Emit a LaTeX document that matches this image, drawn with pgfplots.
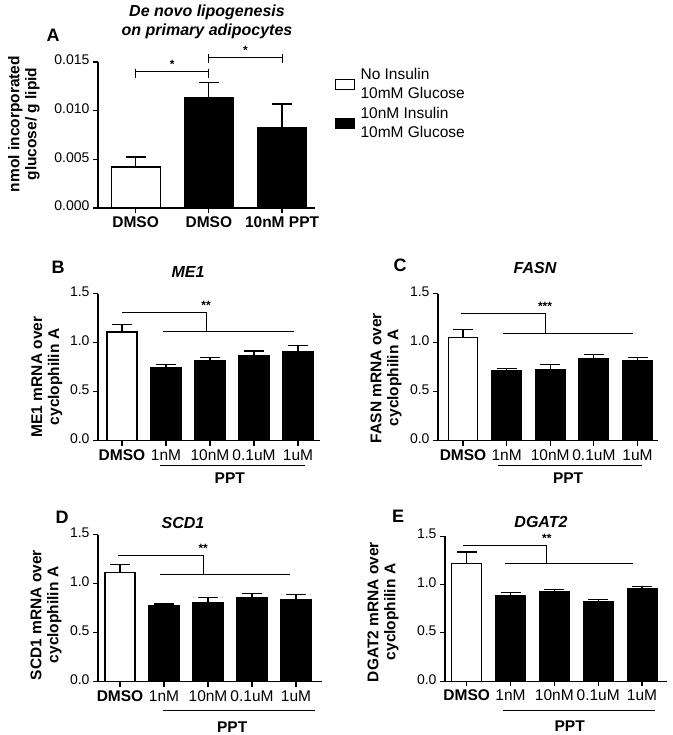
\documentclass[border=0pt]{standalone}
\usepackage{fontspec}
\setmainfont{Liberation Sans}
\usepackage{pgfplots}
\pgfplotsset{compat=1.18}

\tikzset{sig/.style={line width=1pt}}
\pgfplotsset{
  prism/.style={
    scale only axis,
    anchor=south west,
    axis x line*=bottom,
    axis y line*=left,
    axis line style={line width=1.2pt},
    tick align=outside,
    major tick length=5pt,
    tick style={line width=1.2pt, black},
    xtick pos=bottom, ytick pos=left,
    clip=false,
    /pgf/number format/assume math mode=true,
    yticklabel style={font=\fontsize{14}{14}\selectfont},
    xticklabel style={font=\fontsize{15.5}{16}\selectfont},
    typeset ticklabels with strut,
    error bars/y dir=plus,
    error bars/y explicit,
    error bars/error bar style={line width=1.2pt},
    error bars/error mark options={line width=1.2pt, mark size=10pt, rotate=90},
  },
  gene/.style={
    prism,
    height=147pt,
    ymin=0, ymax=1.5,
    ytick={0,0.5,1,1.5},
    yticklabel style={/pgf/number format/fixed, /pgf/number format/fixed zerofill, /pgf/number format/precision=1},
    xtick={0,1,2,3,4},
    xticklabels={\textbf{DMSO},1nM,10nM,0.1uM,1uM},
  },
  whitebar/.style={ybar, bar width=0.68, fill=white, draw=black, line width=1.2pt},
  blackbar/.style={ybar, bar width=0.68, fill=black, draw=black, line width=1.2pt},
}
\newcommand{\ylab}{\bfseries\fontsize{15.5}{17}\selectfont}
\newcommand{\ptitle}{\bfseries\itshape\fontsize{16}{16}\selectfont}
\newcommand{\plett}{\bfseries\fontsize{18}{18}\selectfont}
\newcommand{\stars}{\bfseries\fontsize{12}{12}\selectfont}
\newcommand{\ppt}{\bfseries\fontsize{15.5}{16}\selectfont}

\begin{document}
\begin{tikzpicture}
\useasboundingbox (0,0) rectangle (672pt,735pt);

% ---------------- Panel A ----------------
\begin{axis}[prism, at={(98pt,527pt)}, width=217pt, height=146pt,
  xmin=-0.514, xmax=2.45, ymin=0, ymax=0.015,
  ytick={0,0.005,0.01,0.015}, scaled y ticks=false,
  yticklabel style={/pgf/number format/fixed, /pgf/number format/fixed zerofill, /pgf/number format/precision=3},
  xtick={0,1,2}, xticklabels={DMSO,DMSO,10nM PPT},
  xticklabel style={font=\bfseries\fontsize{15.5}{16}\selectfont},
  legend style={draw=none, fill=none, at={(1.08,0.985)}, anchor=north west,
    cells={anchor=west, font=\fontsize{15.5}{18.5}\selectfont}, row sep=2.5pt, column sep=4pt},
  legend image code/.code={
    \path[draw=none, fill=none] (0pt,0pt) -- (19pt,0pt);
    \draw[#1, line width=1.2pt, overlay] (0pt,-15pt) rectangle (19pt,-5pt);},
]
\addplot[whitebar, bar width=0.67] coordinates {(0,0.00421) +- (0,0.00103)};
\addlegendentry{No Insulin}
\addlegendimage{empty legend}
\addlegendentry{10mM Glucose}
\addplot[blackbar, bar width=0.67] coordinates {(1,0.01137) +- (0,0.0015) (2,0.00829) +- (0,0.00239)};
\addlegendentry{10nM Insulin}
\addlegendimage{empty legend}
\addlegendentry{10mM Glucose}
\draw[sig] (axis cs:0,0.0140) -- (axis cs:1,0.0140);
\draw[sig] ([yshift=3pt]axis cs:0,0.0140) -- ([yshift=-6pt]axis cs:0,0.0140);
\draw[sig] ([yshift=3pt]axis cs:1,0.0140) -- ([yshift=-6pt]axis cs:1,0.0140);
\node[font=\stars] at ([yshift=7pt]axis cs:0.5,0.0140) {*};
\draw[sig] (axis cs:1,0.01548) -- (axis cs:2,0.01548);
\draw[sig] ([yshift=3pt]axis cs:1,0.01548) -- ([yshift=-6pt]axis cs:1,0.01548);
\draw[sig] ([yshift=3pt]axis cs:2,0.01548) -- ([yshift=-6pt]axis cs:2,0.01548);
\node[font=\stars] at ([yshift=7pt]axis cs:1.5,0.01548) {*};
\end{axis}
\node[font=\bfseries\itshape\fontsize{16}{19}\selectfont, align=center] at (207pt,713pt) {De novo lipogenesis\\on primary adipocytes};
\node[font=\plett] at (53pt,700pt) {A};
\node[font=\ylab, rotate=90, align=center] at (24pt,611pt) {nmol incorporated\\glucose/ g lipid};

% ---------------- Panel B ----------------
\begin{axis}[gene, at={(98pt,294.3pt)}, width=222pt, xmin=-0.545, xmax=4.5]
\addplot[whitebar] coordinates {(0,1.109) +- (0,0.078)};
\addplot[blackbar] coordinates {(1,0.747) +- (0,0.033) (2,0.814) +- (0,0.034) (3,0.872) +- (0,0.044) (4,0.912) +- (0,0.062)};
\draw[sig] (axis cs:0,1.306) -- (axis cs:1.91,1.306) -- (axis cs:1.91,1.115);
\draw[sig] (axis cs:0.93,1.115) -- (axis cs:3.91,1.115);
\node[font=\stars] at ([yshift=7pt]axis cs:1.91,1.306) {**};
\draw[sig] ([yshift=-25pt]axis cs:0.86,0) -- ([yshift=-25pt]axis cs:4.16,0);
\node[font=\ppt] at ([yshift=-37pt]axis cs:2.45,0) {PPT};
\end{axis}
\node[font=\ptitle] at (188pt,463pt) {ME1};
\node[font=\plett] at (58pt,468pt) {B};
\node[font=\ylab, rotate=90, align=center] at (47pt,358pt) {ME1 mRNA over\\cyclophilin A};

% ---------------- Panel C ----------------
\begin{axis}[gene, at={(438pt,294.3pt)}, width=220pt, xmin=-0.573, xmax=4.47]
\addplot[whitebar] coordinates {(0,1.057) +- (0,0.075)};
\addplot[blackbar] coordinates {(1,0.716) +- (0,0.024) (2,0.723) +- (0,0.051) (3,0.842) +- (0,0.034) (4,0.818) +- (0,0.034)};
\draw[sig] (axis cs:-0.05,1.295) -- (axis cs:1.88,1.295) -- (axis cs:1.88,1.098);
\draw[sig] (axis cs:0.91,1.098) -- (axis cs:3.89,1.098);
\node[font=\stars] at ([yshift=7pt]axis cs:1.88,1.295) {***};
\draw[sig] ([yshift=-25pt]axis cs:0.80,0) -- ([yshift=-25pt]axis cs:4.1,0);
\node[font=\ppt] at ([yshift=-37pt]axis cs:2.41,0) {PPT};
\end{axis}
\node[font=\ptitle] at (535pt,467pt) {FASN};
\node[font=\plett] at (400pt,470pt) {C};
\node[font=\ylab, rotate=90, align=center] at (386pt,357pt) {FASN mRNA over\\cyclophilin A};

% ---------------- Panel D ----------------
\begin{axis}[gene, at={(98pt,53.3pt)}, width=224pt, xmin=-0.5, xmax=4.59]
\addplot[whitebar] coordinates {(0,1.116) +- (0,0.079)};
\addplot[blackbar] coordinates {(1,0.775) +- (0,0.017) (2,0.809) +- (0,0.051) (3,0.863) +- (0,0.035) (4,0.836) +- (0,0.051)};
\draw[sig] (axis cs:-0.05,1.288) -- (axis cs:1.89,1.288) -- (axis cs:1.89,1.091);
\draw[sig] (axis cs:0.91,1.091) -- (axis cs:3.86,1.091);
\node[font=\stars] at ([yshift=7pt]axis cs:1.89,1.288) {**};
\draw[sig] ([yshift=-29pt]axis cs:0.98,0) -- ([yshift=-29pt]axis cs:4.43,0);
\node[font=\ppt] at ([yshift=-45pt]axis cs:2.55,0) {PPT};
\end{axis}
\node[font=\ptitle] at (183pt,212pt) {SCD1};
\node[font=\plett] at (62pt,218pt) {D};
\node[font=\ylab, rotate=90, align=center] at (46pt,120pt) {SCD1 mRNA over\\cyclophilin A};

% ---------------- Panel E ----------------
\begin{axis}[gene, at={(445pt,53.8pt)}, width=222pt, height=145pt, xmin=-0.495, xmax=4.57]
\addplot[whitebar] coordinates {(0,1.219) +- (0,0.118)};
\addplot[blackbar] coordinates {(1,0.885) +- (0,0.035) (2,0.927) +- (0,0.021) (3,0.823) +- (0,0.021) (4,0.955) +- (0,0.028)};
\draw[sig] (axis cs:-0.08,1.406) -- (axis cs:1.83,1.406) -- (axis cs:1.83,1.219);
\draw[sig] (axis cs:0.87,1.219) -- (axis cs:3.8,1.219);
\node[font=\stars] at ([yshift=7pt]axis cs:1.83,1.406) {**};
\draw[sig] ([yshift=-29pt]axis cs:0.83,0) -- ([yshift=-29pt]axis cs:4.3,0);
\node[font=\ppt] at ([yshift=-45pt]axis cs:2.35,0) {PPT};
\end{axis}
\node[font=\ptitle] at (541pt,213pt) {DGAT2};
\node[font=\plett] at (398pt,219pt) {E};
\node[font=\ylab, rotate=90, align=center] at (383pt,123pt) {DGAT2 mRNA over\\cyclophilin A};
\end{tikzpicture}
\end{document}
